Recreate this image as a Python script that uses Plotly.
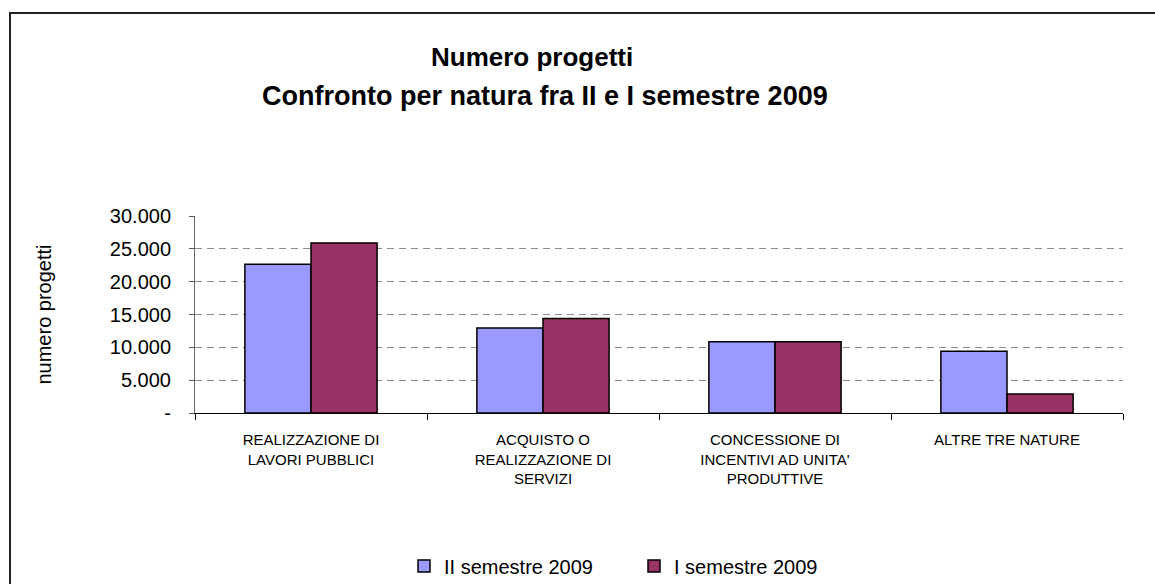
import plotly.graph_objects as go

categories = [
    "REALIZZAZIONE DI<br>LAVORI PUBBLICI",
    "ACQUISTO O<br>REALIZZAZIONE DI<br>SERVIZI",
    "CONCESSIONE DI<br>INCENTIVI AD UNITA'<br>PRODUTTIVE",
    "ALTRE TRE NATURE",
]
series_names = ["II semestre 2009", "I semestre 2009"]
sem2_values = [22650, 12950, 10850, 9400]
sem1_values = [25900, 14400, 10850, 2900]
y_tickvals = [0, 5000, 10000, 15000, 20000, 25000, 30000]
y_ticktext = ["-", "5.000", "10.000", "15.000", "20.000", "25.000", "30.000"]
title_lines = ["Numero progetti", "Confronto per natura fra II e I semestre 2009"]
colors = ["#9999FF", "#993366"]

W, H = 1155, 584
L, R, T, B = 195, 32, 216, 171
pw, ph = W - L - R, H - T - B

fig = go.Figure()
for name, vals, col in zip(series_names, [sem2_values, sem1_values], colors):
    fig.add_trace(go.Bar(
        x=categories, y=vals, name=name,
        marker=dict(color=col, line=dict(color="#000000", width=1.5)),
    ))

def px_x(p):
    return (p - L) / pw

def px_y(p):
    return 1 - (p - T) / ph

title_pos = [(532, 57, 26), (545, 96, 27)]
annotations = [
    dict(text="<b>%s</b>" % t, x=px_x(xx), y=px_y(yy), xref="paper", yref="paper",
         xanchor="center", yanchor="middle", showarrow=False,
         font=dict(size=sz, family="Liberation Sans, Arial, sans-serif", color="#000000"))
    for t, (xx, yy, sz) in zip(title_lines, title_pos)
]

fig.update_layout(
    width=W, height=H,
    margin=dict(l=L, r=R, t=T, b=B, autoexpand=False),
    paper_bgcolor="white", plot_bgcolor="white",
    barmode="group", bargap=0.43, bargroupgap=0,
    font=dict(family="Liberation Sans, Arial, sans-serif", color="#000000"),
    annotations=annotations,
    showlegend=True,
    legend=dict(
        orientation="h", x=px_x(404), xanchor="left",
        y=px_y(566), yanchor="middle",
        font=dict(size=20), entrywidth=185, entrywidthmode="pixels",
        bgcolor="rgba(0,0,0,0)",
    ),
    shapes=[dict(
        type="rect", xref="paper", yref="paper",
        x0=px_x(10), x1=px_x(1170), y0=px_y(600), y1=px_y(13),
        line=dict(color="#222222", width=2), fillcolor="rgba(0,0,0,0)", layer="below",
    )],
)

fig.update_xaxes(
    type="category", tickson="boundaries", ticks="outside", ticklen=6,
    tickcolor="#000000", showline=True, linecolor="#000000", linewidth=1,
    showgrid=False, tickfont=dict(size=15),
    ticklabelstandoff=13,
)
fig.update_yaxes(
    range=[0, 30000], tickvals=y_tickvals, ticktext=y_ticktext,
    ticks="outside", ticklen=5, tickcolor="#555555",
    showline=True, linecolor="#666666", linewidth=1,
    showgrid=True, gridcolor="#8c8c8c", gridwidth=1, griddash="7px,5px",
    zeroline=False, tickfont=dict(size=20), ticklabelstandoff=14,
    title=dict(text="numero progetti", font=dict(size=20), standoff=52),
)

fig.write_html(
    "out.html",
    config={"displayModeBar": False},
    post_script="document.body.style.margin='0px';document.body.style.overflow='hidden';",
)
